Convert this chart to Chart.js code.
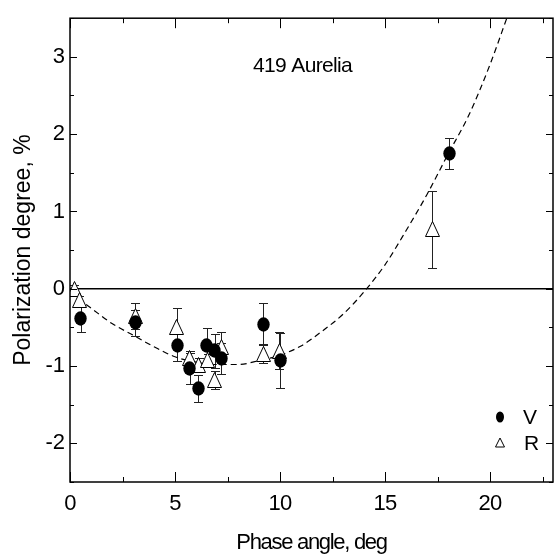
<!DOCTYPE html>
<html>
<head>
<meta charset="utf-8">
<title>419 Aurelia</title>
<script src="https://cdn.jsdelivr.net/npm/chart.js@4.4.1/dist/chart.umd.min.js"></script>
<style>
  html, body { margin: 0; padding: 0; overflow: hidden; background: #fff; }
  #wrap { width: 562px; height: 559px; }
</style>
</head>
<body>
<div id="wrap"><canvas id="polChart" width="562" height="559"></canvas></div>
<script>
// V filter (filled circles)
const vPhase = [0.5, 3.1, 5.1, 5.7, 6.1, 6.5, 6.9, 7.2, 9.2, 10.0, 18.05];
const vPol   = [-0.39, -0.44, -0.73, -1.03, -1.29, -0.73, -0.8, -0.9, -0.46, -0.93, 1.75];
const vErr   = [0.17, 0.17, 0.2, 0.2, 0.18, 0.22, 0.22, 0.2, 0.27, 0.36, 0.2];

// R filter (open triangles)
const rPhase = [0.2, 0.45, 3.1, 5.08, 5.7, 6.13, 6.55, 6.9, 7.2, 9.2, 9.97, 17.24];
const rPol   = [0.0, -0.14, -0.35, -0.5, -0.9, -0.98, -0.92, -1.18, -0.75, -0.84, -0.8, 0.77];
const rErr   = [0.05, 0.05, 0.17, 0.25, 0.1, 0.08, 0.08, 0.12, 0.19, 0.12, 0.24, 0.5];

// dashed fit curve
const fitPhase = [0, 1, 2, 3, 4, 5, 6, 7, 8, 9, 10, 11, 12, 13, 14, 15, 16, 17, 18, 19, 20, 20.8];
const fitPol   = [-0.05, -0.25, -0.45, -0.6, -0.75, -0.88, -0.95, -0.98, -0.98, -0.93, -0.86, -0.74,
                  -0.55, -0.33, -0.04, 0.31, 0.75, 1.22, 1.74, 2.25, 2.9, 3.5];

const xTicks = [0, 5, 10, 15, 20];
const yTicks = [-2, -1, 0, 1, 2, 3];

const FONT = "'Liberation Sans', Arial, sans-serif";

function makeEllipse(w, h) {
  const c = document.createElement("canvas");
  c.width = w; c.height = h;
  const g = c.getContext("2d");
  g.fillStyle = "#000";
  g.beginPath();
  g.ellipse(w / 2, h / 2, w / 2 - 0.3, h / 2 - 0.3, 0, 0, Math.PI * 2);
  g.fill();
  return c;
}

function makeTriangle(w, h) {
  const c = document.createElement("canvas");
  c.width = w; c.height = h;
  const g = c.getContext("2d");
  g.fillStyle = "#fff";
  g.strokeStyle = "#000";
  g.lineWidth = 1;
  g.beginPath();
  g.moveTo(w / 2, 0.5);
  g.lineTo(w - 0.5, h - 0.5);
  g.lineTo(0.5, h - 0.5);
  g.closePath();
  g.fill();
  g.stroke();
  return c;
}

const dotImg = makeEllipse(13, 15);
const triImg = makeTriangle(15, 16);

function toPoints(xs, ys) {
  return xs.map((v, i) => ({ x: v, y: ys[i] }));
}

const framePlugin = {
  id: "frame",
  afterLayout(chart) {
    // condensed look of the x axis texts
    const sx = chart.scales.x;
    if (sx._condensed) return;
    sx._condensed = true;
    const dl = sx.drawLabels, dt = sx.drawTitle;
    sx.drawLabels = function (a) {
      this.ctx.save(); this.ctx.letterSpacing = "-0.8px"; dl.call(this, a); this.ctx.restore();
    };
    sx.drawTitle = function () {
      this.ctx.save(); this.ctx.letterSpacing = "-1.3px"; dt.call(this); this.ctx.restore();
    };
  },
  beforeDatasetsDraw(chart) {
    const { ctx, scales: { x, y } } = chart;
    ctx.save();
    ctx.strokeStyle = "#222";
    ctx.lineWidth = 1;
    const bars = (xs, ys, es) => {
      xs.forEach((v, i) => {
        const px = Math.round(x.getPixelForValue(v)) + 0.5;
        const top = Math.round(y.getPixelForValue(ys[i] + es[i])) + 0.5;
        const bot = Math.round(y.getPixelForValue(ys[i] - es[i])) + 0.5;
        ctx.beginPath();
        ctx.moveTo(px, top); ctx.lineTo(px, bot);
        ctx.moveTo(px - 4.5, top); ctx.lineTo(px + 4.5, top);
        ctx.moveTo(px - 4.5, bot); ctx.lineTo(px + 4.5, bot);
        ctx.stroke();
      });
    };
    bars(rPhase, rPol, rErr);
    bars(vPhase, vPol, vErr);
    ctx.restore();
    // keep the marker images sharp
    ctx.imageSmoothingEnabled = false;
  },
  afterDatasetsDraw(chart) {
    chart.ctx.imageSmoothingEnabled = true;
  },
  afterDraw(chart) {
    const { ctx, chartArea: a, scales: { x, y } } = chart;
    ctx.save();
    ctx.strokeStyle = "#000";
    ctx.lineWidth = 1.5;
    ctx.strokeRect(a.left, a.top, a.right - a.left, a.bottom - a.top);

    ctx.lineWidth = 1;
    ctx.beginPath();
    for (let i = 0; i * 2.5 <= x.max; i++) {
      const px = Math.round(x.getPixelForValue(i * 2.5)) + 0.5;
      const len = i % 2 === 0 ? 10 : 5;
      ctx.moveTo(px, a.bottom); ctx.lineTo(px, a.bottom - len);
      ctx.moveTo(px, a.top); ctx.lineTo(px, a.top + len);
    }
    for (let i = 0; y.min + i * 0.5 <= y.max + 1e-9; i++) {
      const v = y.min + i * 0.5;
      const py = Math.round(y.getPixelForValue(v)) + 0.5;
      const len = Number.isInteger(v) ? 7 : 4;
      ctx.moveTo(a.left, py); ctx.lineTo(a.left + len, py);
      ctx.moveTo(a.right, py); ctx.lineTo(a.right - len, py);
    }
    ctx.stroke();

    // object name
    ctx.fillStyle = "#000";
    ctx.font = "21px " + FONT;
    ctx.letterSpacing = "-0.65px";
    ctx.textAlign = "left";
    ctx.textBaseline = "alphabetic";
    ctx.fillText("419 Aurelia", a.left + 183, a.top + 54);

    // legend
    ctx.letterSpacing = "0px";
    const lx = a.right - 53;
    ctx.beginPath();
    ctx.ellipse(lx, a.bottom - 65, 4, 5.5, 0, 0, Math.PI * 2);
    ctx.fill();
    ctx.beginPath();
    ctx.moveTo(lx, a.bottom - 44);
    ctx.lineTo(lx + 4.5, a.bottom - 35);
    ctx.lineTo(lx - 4.5, a.bottom - 35);
    ctx.closePath();
    ctx.stroke();
    ctx.font = "21px " + FONT;
    ctx.textBaseline = "middle";
    ctx.fillText("V", lx + 23, a.bottom - 64);
    ctx.fillText("R", lx + 24, a.bottom - 38);
    ctx.restore();
  }
};

new Chart(document.getElementById("polChart"), {
  type: "scatter",
  data: {
    datasets: [
      {
        label: "V",
        data: toPoints(vPhase, vPol),
        pointStyle: dotImg,
        pointRadius: 7,
        order: 0
      },
      {
        label: "R",
        data: toPoints(rPhase, rPol),
        pointStyle: triImg,
        pointRadius: 8,
        order: 1
      },
      {
        label: "fit",
        type: "line",
        data: toPoints(fitPhase, fitPol),
        showLine: true,
        borderColor: "#000",
        borderWidth: 1.2,
        borderDash: [6, 4],
        pointRadius: 0,
        cubicInterpolationMode: "monotone",
        fill: false,
        order: 2
      },
      {
        label: "zero",
        type: "line",
        data: [{ x: 0, y: 0 }, { x: 23, y: 0 }],
        showLine: true,
        borderColor: "#000",
        borderWidth: 1.5,
        pointRadius: 0,
        fill: false,
        order: 3
      }
    ]
  },
  options: {
    responsive: false,
    animation: false,
    events: [],
    layout: { padding: { left: 0, right: 1, top: 11, bottom: 0 } },
    plugins: { legend: { display: false }, tooltip: { enabled: false } },
    scales: {
      x: {
        type: "linear",
        min: 0,
        max: 23,
        afterFit(s) { s.height = 77; },
        afterBuildTicks(s) { s.ticks = xTicks.map(v => ({ value: v })); },
        grid: { display: false, drawTicks: false },
        border: { display: false },
        ticks: { color: "#000", font: { family: FONT, size: 22 }, padding: 9, maxRotation: 0, autoSkip: false },
        title: {
          display: true,
          text: "Phase angle, deg",
          color: "#000",
          font: { family: FONT, size: 22 },
          padding: { top: 0, bottom: 3 }
        }
      },
      y: {
        type: "linear",
        min: -2.5,
        max: 3.5,
        afterFit(s) { s.width = 70; },
        afterBuildTicks(s) { s.ticks = yTicks.map(v => ({ value: v })); },
        grid: { display: false, drawTicks: false },
        border: { display: false },
        ticks: { color: "#000", font: { family: FONT, size: 22 }, padding: 5, autoSkip: false },
        title: {
          display: true,
          text: "Polarization degree, %",
          color: "#000",
          font: { family: FONT, size: 23 },
          padding: { top: 10, bottom: 0 }
        }
      }
    }
  },
  plugins: [framePlugin]
});
</script>
</body>
</html>
